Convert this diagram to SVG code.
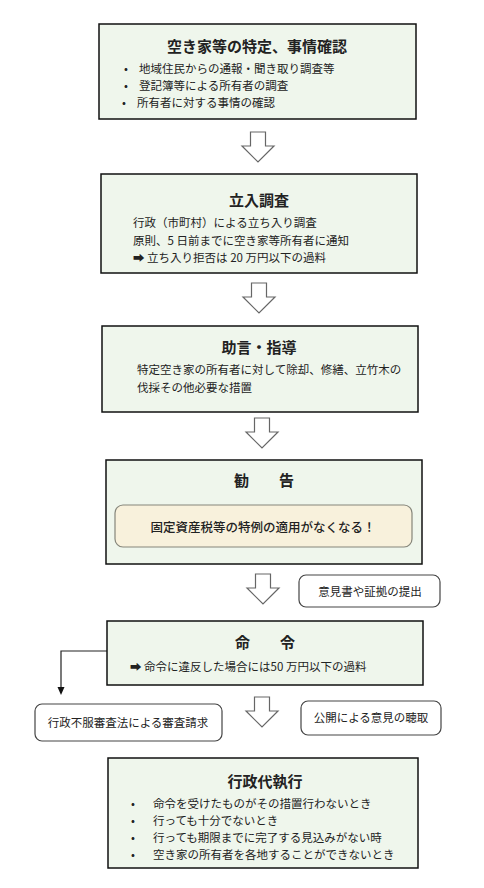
<svg xmlns="http://www.w3.org/2000/svg" width="484" height="888" viewBox="0 0 484 888">
<style>
text{font-family:"Noto Sans CJK JP","Noto Sans",sans-serif;fill:#222;}
.box{fill:#eff6ec;stroke:#111;stroke-width:1.5;}
.side{fill:#fff;stroke:#444;stroke-width:1.2;}
.title{font-size:15px;font-weight:700;text-anchor:middle;}
.body{font-size:11.5px;}
.arrow{fill:#fff;stroke:#666;stroke-width:1.2;stroke-linejoin:miter;}
</style>
<defs>
<path id="bigArrow" d="M -7.5 0 H 7.5 V 14 H 16 L 0 30 L -16 14 H -7.5 Z"/>
</defs>
<rect width="484" height="888" fill="#fff"/>

<g id="connectors">
<use href="#bigArrow" class="arrow" x="258" y="132"/>
<use href="#bigArrow" class="arrow" x="259" y="283"/>
<use href="#bigArrow" class="arrow" x="262" y="418"/>
<use href="#bigArrow" class="arrow" x="263" y="574"/>
<use href="#bigArrow" class="arrow" x="262" y="697"/>
<polyline points="107,651 61,651 61,688" fill="none" stroke="#222" stroke-width="1.2"/>
<path d="M57.5 687 L64.5 687 L61 695 Z" fill="#111"/>
</g>

<g id="node-identify">
<rect class="box" x="99" y="24" width="317" height="95"/>
<text class="title" x="257" y="52">空き家等の特定、事情確認</text>
<text class="body" x="124" y="73">•</text><text class="body" x="139" y="73">地域住民からの通報・聞き取り調査等</text>
<text class="body" x="124" y="90">•</text><text class="body" x="139" y="90">登記簿等による所有者の調査</text>
<text class="body" x="122" y="107">•</text><text class="body" x="137" y="107">所有者に対する事情の確認</text>
</g>

<g id="node-inspection">
<rect class="box" x="101" y="174" width="316" height="99"/>
<text class="title" x="259" y="206">立入調査</text>
<text class="body" x="133" y="227">行政（市町村）による立ち入り調査</text>
<text class="body" x="133" y="245">原則、5 日前までに空き家等所有者に通知</text>
<text class="body" x="133" y="262">➡ 立ち入り拒否は 20 万円以下の過料</text>
</g>

<g id="node-advice">
<rect class="box" x="102" y="326" width="316" height="86"/>
<text class="title" x="259" y="353">助言・指導</text>
<text class="body" x="137" y="374">特定空き家の所有者に対して除却、修繕、立竹木の</text>
<text class="body" x="137" y="392">伐採その他必要な措置</text>
</g>

<g id="node-recommend">
<rect class="box" x="106" y="460" width="316" height="104"/>
<text class="title" x="264" y="486">勧　　告</text>
<rect x="115" y="505" width="297" height="42" rx="8" fill="#f8f1dc" stroke="#85857a" stroke-width="1.2"/>
<text x="263" y="532" font-size="12.5" font-weight="500" text-anchor="middle">固定資産税等の特例の適用がなくなる！</text>
</g>

<g id="node-opinion">
<rect class="side" x="299" y="575" width="141" height="32" rx="7"/>
<text class="body" x="370" y="596" text-anchor="middle">意見書や証拠の提出</text>
</g>

<g id="node-order">
<rect class="box" x="107" y="621" width="316" height="64"/>
<text class="title" x="265" y="648">命　　令</text>
<text class="body" x="130" y="671">➡ 命令に違反した場合には50 万円以下の過料</text>
</g>

<g id="node-appeal">
<rect class="side" x="35" y="704" width="187" height="37" rx="7"/>
<text class="body" x="128" y="727" text-anchor="middle">行政不服審査法による審査請求</text>
</g>

<g id="node-hearing">
<rect class="side" x="301" y="701" width="140" height="34" rx="7"/>
<text class="body" x="371" y="722" text-anchor="middle">公開による意見の聴取</text>
</g>

<g id="node-execution">
<rect class="box" x="108" y="758" width="310" height="110"/>
<text class="title" x="265" y="787">行政代執行</text>
<text class="body" x="131" y="808">•</text><text class="body" x="153" y="808">命令を受けたものがその措置行わないとき</text>
<text class="body" x="131" y="825">•</text><text class="body" x="153" y="825">行っても十分でないとき</text>
<text class="body" x="131" y="842">•</text><text class="body" x="153" y="842">行っても期限までに完了する見込みがない時</text>
<text class="body" x="131" y="859">•</text><text class="body" x="153" y="859">空き家の所有者を各地することができないとき</text>
</g>
</svg>
